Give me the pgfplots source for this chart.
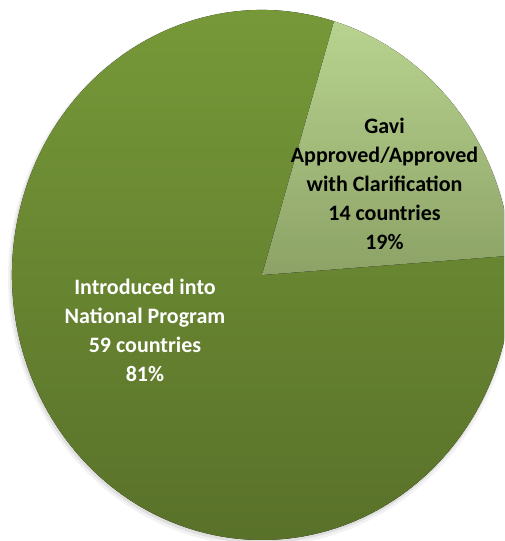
\documentclass[border=0pt]{standalone}
\usepackage{pgfplots}
\pgfplotsset{compat=1.18}
\usepackage{pgfplotstable}
\usepackage{fontspec}
\setmainfont{Carlito}
\definecolor{bigtop}{HTML}{789B39}
\definecolor{bigbot}{HTML}{587029}
\definecolor{smalltop}{HTML}{B8D38F}
\definecolor{smallbot}{HTML}{8CA266}
\pgfplotstableread{
label count
Introduced 59
Gavi 14
}\piedata
\begin{document}
\begin{tikzpicture}
\pgfplotstablegetelem{0}{count}\of\piedata \let\nA\pgfplotsretval
\pgfplotstablegetelem{1}{count}\of\piedata \let\nB\pgfplotsretval
\pgfmathsetmacro\startB{4.2}
\pgfmathsetmacro\endB{\startB+360*\nB/(\nA+\nB)}
\pgfmathsetmacro\endA{\startB+360}
\begin{axis}[width=504pt, height=541pt, scale only axis, hide axis,
  xmin=0, xmax=504, ymin=0, ymax=541, clip=true]
% soft shadow
\fill[black, opacity=0.05] (axis cs:261,263) ellipse[x radius=253pt, y radius=268pt];
\fill[black, opacity=0.08] (axis cs:261,264) ellipse[x radius=251pt, y radius=266pt];
% large slice: Introduced into National Program
\fill[top color=bigtop, bottom color=bigbot]
  (axis cs:262,266) -- ++(\endB:250pt and 265pt)
  arc[start angle=\endB, end angle=\endA, x radius=250pt, y radius=265pt] -- cycle;
% small slice: Gavi approved
\fill[top color=smalltop, bottom color=smallbot]
  (axis cs:262,266) -- ++(\startB:250pt and 265pt)
  arc[start angle=\startB, end angle=\endB, x radius=250pt, y radius=265pt] -- cycle;
\node[align=center, text=white, font=\fontsize{22}{29}\selectfont\bfseries]
  at (axis cs:145,211) {Introduced into\\National Program\\59 countries\\81\%};
\node[align=center, text=black, font=\fontsize{22}{29}\selectfont\bfseries]
  at (axis cs:384.5,357.5) {Gavi\\Approved/Approved\\with Clarification\\14 countries\\19\%};
\end{axis}
\pgfresetboundingbox
\path (current axis.south west) rectangle (current axis.north east);
\end{tikzpicture}
\end{document}
